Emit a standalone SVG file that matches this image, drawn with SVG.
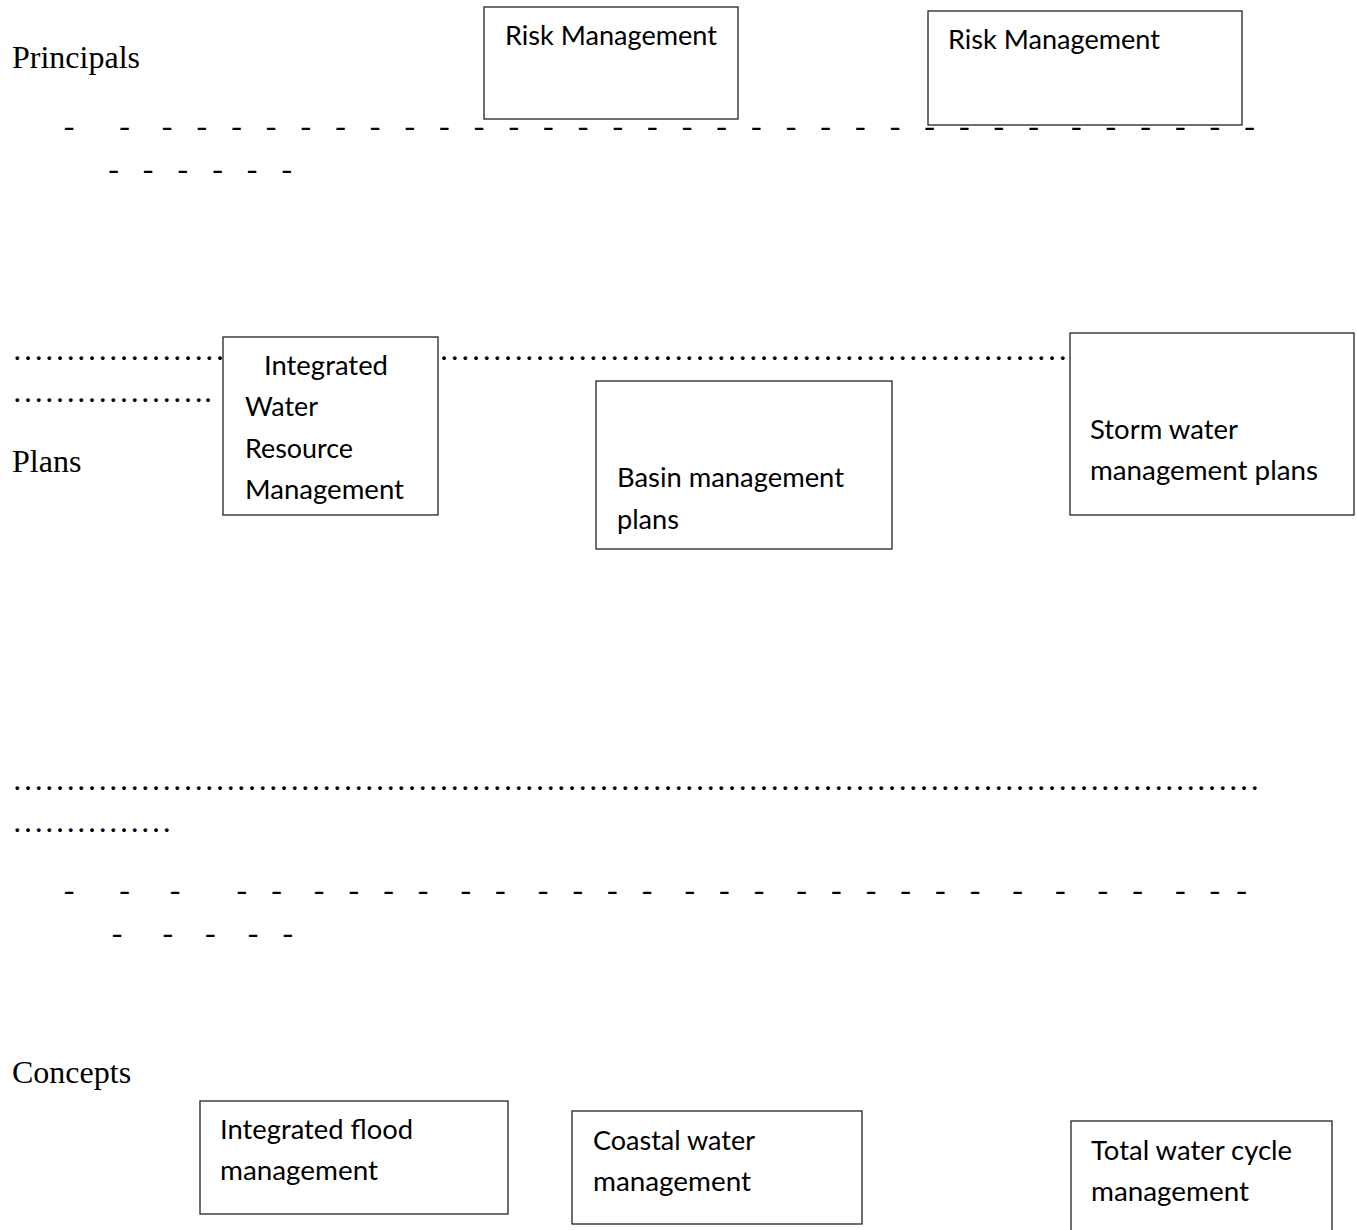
<svg xmlns="http://www.w3.org/2000/svg" width="1357" height="1230" viewBox="0 0 1357 1230">
<style>
.lbl{font-family:"Liberation Serif","Times New Roman",serif;font-size:32px;fill:#000}
.sep{font-family:"Liberation Serif","Times New Roman",serif;font-size:32px;fill:#000;white-space:pre}
.box{fill:#fff;stroke:#222;stroke-width:1.3}
.bt{font-family:Lato,"Liberation Sans",sans-serif;font-size:26.5px;fill:#000}
</style>
<rect width="1357" height="1230" fill="#fff"/>
<g id="labels">
<text class="lbl" x="12" y="68">Principals</text>
<text class="lbl" x="12" y="472">Plans</text>
<text class="lbl" x="12" y="1083">Concepts</text>
</g>
<g id="separators">
<text class="sep" xml:space="preserve" x="63.7" y="136">-</text>
<text class="sep" xml:space="preserve" x="119.2" y="136">-    -   -   -   -   -   -   -   -   -   -   -   -   -   -   -   -   -   -   -   -   -   -   -   -   -   -    -   -   -   -   -   -</text>
<text class="sep" xml:space="preserve" x="108.2" y="179">-   -   -   -   -   -</text>
<text class="sep" x="12" y="360"><tspan>………</tspan><tspan>………</tspan><tspan>…</tspan></text>
<text class="sep" x="428" y="360"><tspan>………</tspan><tspan>………</tspan><tspan>………</tspan><tspan>………</tspan><tspan>………</tspan><tspan>………</tspan><tspan>……</tspan></text>
<text class="sep" x="12" y="402"><tspan>………</tspan><tspan>………</tspan><tspan>.</tspan></text>
<text class="sep" x="12" y="790"><tspan>………</tspan><tspan>………</tspan><tspan>………</tspan><tspan>………</tspan><tspan>………</tspan><tspan>………</tspan><tspan>………</tspan><tspan>………</tspan><tspan>………</tspan><tspan>………</tspan><tspan>………</tspan><tspan>………</tspan><tspan>………</tspan></text>
<text class="sep" x="12" y="832"><tspan>………</tspan><tspan>……</tspan></text>
<text class="sep" xml:space="preserve" x="63.7" y="900">-</text>
<text class="sep" xml:space="preserve" x="119.2" y="900">-     -       -   -    -   -   -   -    -   -    -   -   -   -    -   -   -    -   -   -   -   -   -    -    -    -   -    -   -  -</text>
<text class="sep" xml:space="preserve" x="111.8" y="943">-     -    -    -   -</text>
</g>
<g id="risk1">
<rect class="box" x="484" y="7" width="254" height="112"/>
<text class="bt" x="505" y="45" textLength="212" lengthAdjust="spacingAndGlyphs">Risk Management</text>
</g>
<g id="risk2">
<rect class="box" x="928" y="11" width="314" height="114"/>
<text class="bt" x="948" y="49" textLength="212" lengthAdjust="spacingAndGlyphs">Risk Management</text>
</g>
<g id="iwrm">
<rect class="box" x="223" y="337" width="215" height="178"/>
<text class="bt" x="264" y="375" textLength="124" lengthAdjust="spacingAndGlyphs">Integrated</text>
<text class="bt" x="245" y="416" textLength="73" lengthAdjust="spacingAndGlyphs">Water</text>
<text class="bt" x="245" y="458" textLength="108" lengthAdjust="spacingAndGlyphs">Resource</text>
<text class="bt" x="245" y="499" textLength="159" lengthAdjust="spacingAndGlyphs">Management</text>
</g>
<g id="basin">
<rect class="box" x="596" y="381" width="296" height="168"/>
<text class="bt" x="617" y="487" textLength="227" lengthAdjust="spacingAndGlyphs">Basin management</text>
<text class="bt" x="617" y="529" textLength="62" lengthAdjust="spacingAndGlyphs">plans</text>
</g>
<g id="storm">
<rect class="box" x="1070" y="333" width="284" height="182"/>
<text class="bt" x="1090" y="439" textLength="148" lengthAdjust="spacingAndGlyphs">Storm water</text>
<text class="bt" x="1090" y="480" textLength="228" lengthAdjust="spacingAndGlyphs">management plans</text>
</g>
<g id="flood">
<rect class="box" x="200" y="1101" width="308" height="113"/>
<text class="bt" x="220" y="1139" textLength="193" lengthAdjust="spacingAndGlyphs">Integrated flood</text>
<text class="bt" x="220" y="1180" textLength="158" lengthAdjust="spacingAndGlyphs">management</text>
</g>
<g id="coastal">
<rect class="box" x="572" y="1111" width="290" height="113"/>
<text class="bt" x="593" y="1150" textLength="162" lengthAdjust="spacingAndGlyphs">Coastal water</text>
<text class="bt" x="593" y="1191" textLength="158" lengthAdjust="spacingAndGlyphs">management</text>
</g>
<g id="total">
<rect class="box" x="1071" y="1121" width="261" height="115"/>
<text class="bt" x="1091" y="1160" textLength="201" lengthAdjust="spacingAndGlyphs">Total water cycle</text>
<text class="bt" x="1091" y="1201" textLength="158" lengthAdjust="spacingAndGlyphs">management</text>
</g>
</svg>
